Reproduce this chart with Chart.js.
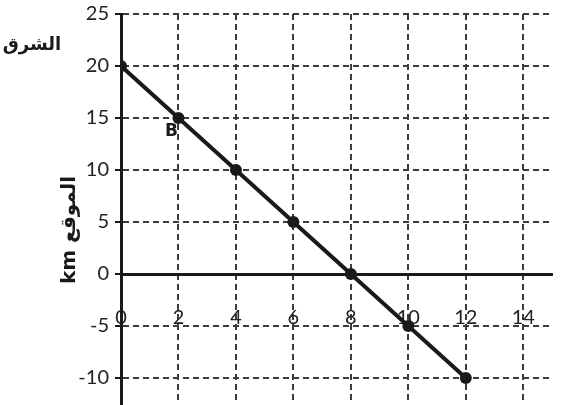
<!DOCTYPE html>
<html>
<head>
<meta charset="utf-8">
<script src="https://cdn.jsdelivr.net/npm/chart.js@4"></script>
<style>
  html, body { margin: 0; padding: 0; background: #ffffff; }
  #wrap { width: 565px; height: 405px; position: relative; }
</style>
</head>
<body>
<div id="wrap"><canvas id="c"></canvas></div>
<script>
// ---- data ----
const timeValues = [0, 2, 4, 6, 8, 10, 12];
const positionKm = [20, 15, 10, 5, 0, -5, -10];
const xTickValues = [0, 2, 4, 6, 8, 10, 12, 14];
const yTickValues = [-10, -5, 0, 5, 10, 15, 20, 25];
const pointLabelText = 'B';
const pointLabelIndex = 1;
const yTitleText = 'km الموقع';
const cornerText = 'الشرق';

const INK = '#1a1a1a';
const GRID = '#3c3c3c';

const textPlugin = {
  id: 'texts',
  afterDatasetsDraw(chart) {
    const ctx = chart.ctx;
    const xs = chart.scales.x, ys = chart.scales.y;
    ctx.save();
    ctx.fillStyle = INK;
    ctx.textAlign = 'center';
    ctx.textBaseline = 'middle';
    // point label B
    ctx.font = 'bold 17px "DejaVu Sans", sans-serif';
    const px = xs.getPixelForValue(timeValues[pointLabelIndex]);
    const py = ys.getPixelForValue(positionKm[pointLabelIndex]);
    ctx.fillText(pointLabelText, px - 7, py + 14);
    // corner text
    ctx.font = 'bold 18px "DejaVu Sans", sans-serif';
    ctx.direction = 'rtl';
    ctx.fillText(cornerText, 32, 45);
    ctx.direction = 'ltr';
    // y axis title (rotated)
    ctx.translate(70, 230);
    ctx.rotate(-Math.PI / 2);
    ctx.font = 'bold 20px "DejaVu Sans", sans-serif';
    ctx.fillText(yTitleText, 0, 0);
    ctx.restore();
  }
};

new Chart(document.getElementById('c'), {
  type: 'scatter',
  data: {
    datasets: [{
      data: timeValues.map((t, i) => ({ x: t, y: positionKm[i] })),
      showLine: true,
      borderColor: INK,
      borderWidth: 4,
      pointRadius: 6,
      pointHoverRadius: 6,
      pointBackgroundColor: INK,
      pointBorderColor: INK,
      pointBorderWidth: 0
    }]
  },
  options: {
    responsive: true,
    maintainAspectRatio: false,
    animation: false,
    events: [],
    layout: { autoPadding: false, padding: { left: 0, right: 13, top: 14, bottom: 1 } },
    plugins: { legend: { display: false }, tooltip: { enabled: false } },
    scales: {
      x: {
        type: 'linear',
        min: 0,
        max: 15,
        position: { y: 0 },
        afterBuildTicks(s) { s.ticks = xTickValues.map(v => ({ value: v })); },
        afterFit(s) { s.paddingLeft = 0; s.paddingRight = 0; },
        grid: {
          color: c => (c.tick && c.tick.value === 0) ? 'rgba(0,0,0,0)' : GRID,
          lineWidth: 2,
          drawTicks: false
        },
        border: { display: true, color: INK, width: 3, dash: [6, 4] },
        ticks: {
          color: '#222',
          font: { family: 'Lato', size: 20 },
          padding: 32,
          maxRotation: 0
        }
      },
      y: {
        type: 'linear',
        min: -12.5,
        max: 25,
        afterBuildTicks(s) { s.ticks = yTickValues.map(v => ({ value: v })); },
        afterFit(s) { s.width = 121; s.paddingTop = 0; s.paddingBottom = 0; },
        grid: {
          color: c => (c.tick && c.tick.value === 0) ? 'rgba(0,0,0,0)' : GRID,
          lineWidth: 2,
          tickColor: INK,
          tickLength: 6,
          tickWidth: 2
        },
        border: { display: true, color: INK, width: 3, dash: [6, 4] },
        ticks: {
          color: '#222',
          font: { family: 'Lato', size: 20 },
          padding: 6
        }
      }
    }
  },
  plugins: [textPlugin]
});
</script>
</body>
</html>
